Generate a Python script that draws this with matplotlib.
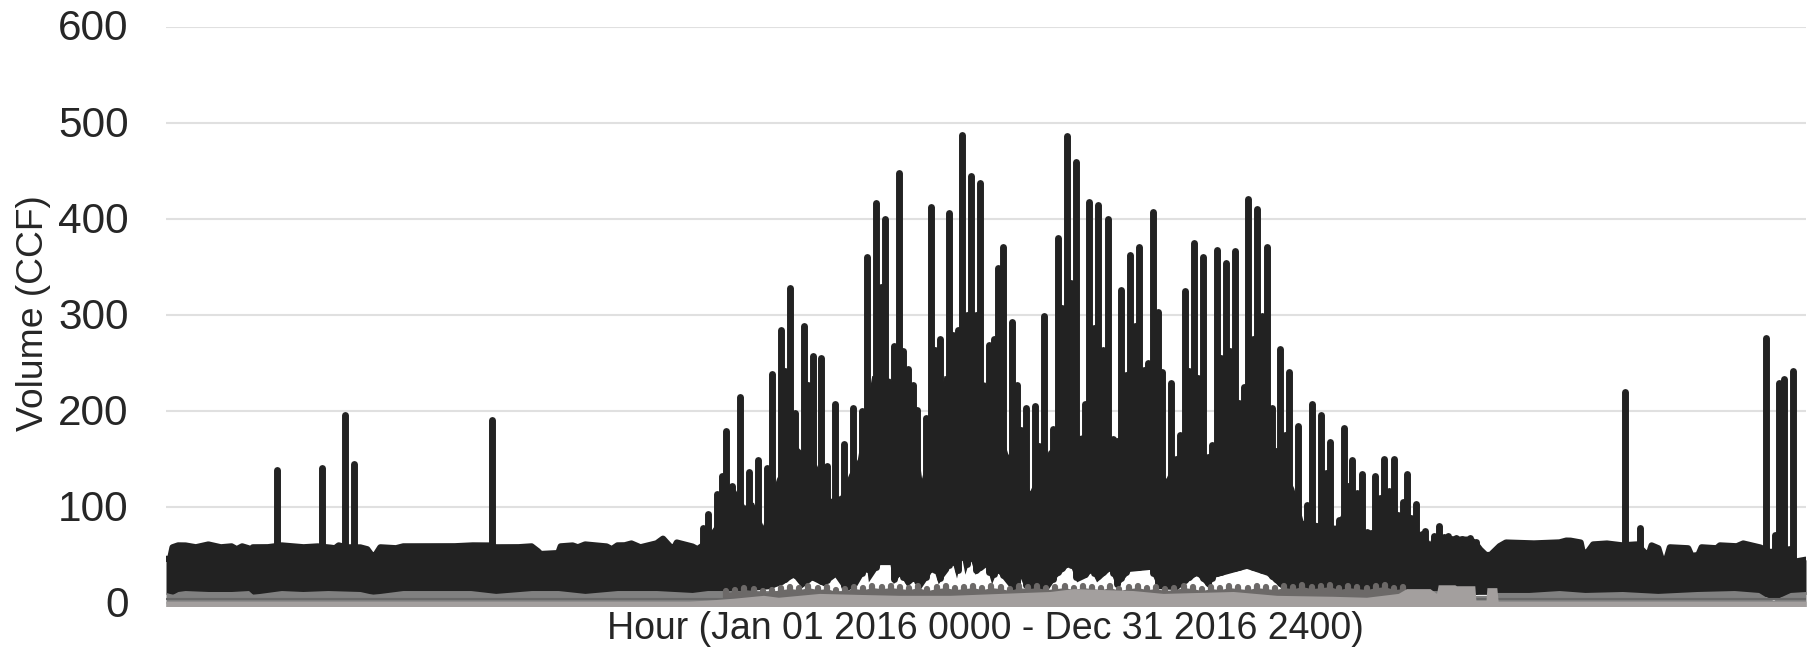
import numpy as np
import matplotlib
matplotlib.use("Agg")
import matplotlib.pyplot as plt
from matplotlib.transforms import ScaledTranslation

plt.rcParams["font.family"] = ["Liberation Sans", "DejaVu Sans"]

# === Data ===
# tall daily peaks of the main series
spike_hours = [
    594, 836, 961, 1007, 1745,
    2878, 2905, 2953, 2976, 3001, 3030, 3074, 3122, 3171, 3221, 3244, 3294, 3317, 3342, 3369,
    3415, 3440, 3463, 3510, 3538, 3583, 3631, 3681, 3726, 3756, 3803, 3828, 3853, 3899, 3926,
    3949, 3976, 3999, 4024, 4071, 4096, 4119, 4144, 4192, 4217, 4240, 4265, 4290, 4313, 4338,
    4361, 4410, 4435, 4458, 4483, 4531, 4556, 4579, 4604, 4654, 4677, 4702, 4749, 4776, 4801,
    4824, 4849, 4874, 4920, 4945, 4970, 4994, 5019, 5044, 5070, 5092, 5117, 5142, 5165, 5190,
    5213, 5238, 5261, 5286, 5311, 5336, 5383, 5408, 5431, 5456, 5481, 5506, 5529, 5554, 5579,
    5602, 5627, 5652, 5675, 5699, 5724, 5749, 5772, 5797, 5822, 5845, 5870, 5895, 5922, 5943,
    5968, 5993, 6016, 6064, 6109, 6138, 6186, 6211, 6234, 6282, 6307, 6332, 6355, 6380, 6405,
    6430, 6452, 6477, 6502, 6525, 6550, 6575, 6600, 6623, 6646, 6671, 6696, 6725, 6746, 6773,
    6794, 6818, 6843, 6868, 6912, 6939, 6987, 7014,
    7814, 7893, 8571, 8617, 8640, 8665, 8714,
]
spike_tops = [
    140, 142, 197, 146, 192,
    80, 94, 115, 134, 181, 123, 216, 138, 150, 142, 240, 286, 243, 330, 199,
    290, 229, 259, 257, 144, 209, 167, 205, 202, 362, 418, 331, 402, 269, 449,
    264, 245, 229, 203, 194, 414, 265, 276, 408, 281, 286, 489, 302, 446, 301,
    439, 270, 277, 350, 372, 294, 229, 182, 205, 207, 165, 300, 183, 382, 309,
    488, 335, 461, 209, 419, 288, 416, 265, 401, 172, 170, 328, 239, 364, 290,
    372, 244, 252, 409, 305, 242, 231, 152, 176, 327, 243, 377, 236, 362, 154,
    166, 369, 257, 356, 264, 368, 210, 226, 422, 276, 412, 300, 372, 205, 160,
    266, 177, 242, 186, 104, 209, 197, 137, 169, 88, 184, 123, 150, 116, 136,
    75, 74, 134, 111, 151, 118, 151, 93, 107, 136, 90, 105, 73, 77, 61,
    71, 82, 70, 71, 69, 68, 69, 65,
    221, 80, 278, 72, 231, 235, 243,
]

# upper edge of the solid dark mass
mass_hours = [
    0, 22, 35, 64, 102, 159, 226, 293, 351, 379, 408, 442, 454, 465, 542, 618, 676, 733, 810,
    867, 905, 925, 963, 1039, 1078, 1108, 1125, 1148, 1231, 1269, 1345, 1441, 1537, 1632, 1728,
    1766, 1881, 1958, 1992, 2005, 2101, 2114, 2177, 2206, 2244, 2359, 2388, 2417, 2455, 2493,
    2541, 2627, 2662, 2694, 2717, 2736, 2818, 2847, 2876,
    2905, 2953, 3001, 3050, 3098, 3146, 3197, 3221, 3270, 3369, 3485, 3560, 3610, 3658, 3703,
    3780, 3878, 3999, 4047, 4071, 4167, 4388, 4508, 4627, 4726, 4899, 5070, 5092, 5356, 5408,
    5579, 5602, 5749, 5943, 6040, 6090, 6262, 6340, 6430, 6452, 6600, 6671, 6725, 6773, 6794,
    6843, 6912, 6987, 7014, 7037, 7069, 7094, 7141, 7176, 7319, 7462, 7498, 7520, 7577, 7591,
    7618, 7644, 7716, 7796, 7877, 7912, 7939, 7957, 7993, 8010, 8037, 8055, 8153, 8171, 8207,
    8225, 8305, 8323, 8412, 8448, 8537, 8591, 8698, 8724, 8778, 8784,
]
mass_tops = [
    46, 46, 58, 60, 60, 58, 61, 58, 59, 56, 59, 57, 46, 58, 58, 60, 59, 58, 59,
    58, 57, 60, 58, 58, 56, 48, 51, 58, 57, 59, 59, 59, 59, 60, 60,
    58, 58, 59, 54, 51, 52, 59, 60, 58, 61, 59, 56, 60, 60, 62,
    58, 62, 67, 60, 56, 63, 59, 56, 60,
    72, 85, 100, 118, 102, 105, 81, 100, 130, 165, 144, 109, 112, 135, 150,
    237, 234, 200, 130, 150, 237, 230, 156, 117, 159, 175, 170, 170, 130, 152,
    154, 150, 200, 160, 120, 86, 81, 110, 72, 71, 90, 87, 70, 58, 65,
    67, 66, 66, 62, 56, 50, 50, 59, 63, 62, 63, 65, 65, 63, 50,
    54, 61, 62, 60, 61, 54, 49, 60, 57, 46, 46, 58, 57, 49, 50,
    58, 57, 60, 59, 62, 58, 53, 56, 43, 45, 45,
]

# lower edge of the dark mass
floor_hours = [
    0, 1500, 2900, 3235, 3306, 3360, 3405, 3458, 3521, 3583, 3637, 3699, 3753, 3762, 3824, 3878,
    3895, 3931, 3967, 4011, 4038, 4083, 4110, 4136, 4190, 4208, 4234, 4261, 4279, 4306, 4333,
    4395, 4422, 4449, 4511, 4547, 4574, 4600, 4716, 4770, 4841, 4877, 4931, 4957, 4984, 5056,
    5091, 5163, 5270, 5314, 5413, 5520, 5582, 5618, 5787, 5895, 5993, 6073, 6800, 8500, 8600,
    8784,
]
floor_vals = [
    9, 9, 9, 15, 20, 27, 16, 24, 18, 27, 12, 18, 36, 22, 40, 40,
    20, 29, 18, 24, 14, 27, 36, 20, 34, 45, 26, 48, 30, 47, 30,
    38, 20, 33, 18, 12, 27, 15, 12, 27, 40, 22, 27, 33, 22, 34,
    16, 33, 35, 15, 14, 29, 16, 27, 36, 29, 12, 9, 9, 9, 5,
    9,
]

# dark grey series under the main one, its daily bumps in summer
bump_hours = [
    3000, 3049, 3098, 3147, 3196, 3245, 3294, 3343, 3392, 3441, 3490, 3539, 3588, 3637, 3686,
    3735, 3784, 3833, 3882, 3931, 3980, 4029, 4078, 4127, 4176, 4225, 4274, 4323, 4372, 4421,
    4470, 4519, 4568, 4617, 4666, 4715, 4764, 4813, 4862, 4911, 4960, 5009, 5058, 5107, 5156,
    5205, 5254, 5303, 5352, 5401, 5450, 5499, 5548, 5597, 5646, 5695, 5744, 5793, 5842, 5891,
    5940, 5989, 6038, 6087, 6136, 6185, 6234, 6283, 6332, 6381, 6430, 6479, 6528, 6577, 6626,
]
bump_vals = [
    13, 14, 16, 15, 13, 14, 16, 17, 16, 18, 16, 17, 14, 15, 17,
    16, 18, 17, 18, 17, 16, 18, 15, 17, 18, 16, 17, 18, 16, 18,
    17, 15, 18, 17, 18, 16, 17, 18, 16, 18, 17, 16, 18, 15, 17,
    18, 16, 17, 15, 16, 18, 17, 15, 17, 16, 18, 17, 16, 18, 17,
    16, 18, 17, 19, 17, 18, 19, 16, 18, 17, 16, 18, 19, 16, 17,
]

# mid grey series
mid_hours = [
    0, 35, 64, 102, 226, 351, 442, 465, 618, 733, 867, 1039, 1108, 1269, 1441, 1632, 1766, 1958,
    2101, 2244, 2417, 2627, 2818, 2900, 6800, 7016, 7070, 7130, 7300, 7462, 7600, 7800, 7990,
    8200, 8400, 8530, 8580, 8610, 8700, 8784,
]
mid_vals = [
    11, 9, 12, 13, 12, 12, 13, 9, 13, 12, 13, 12, 9, 13, 13, 13, 10, 13,
    13, 10, 13, 13, 11, 13, 13, 8, 8, 11, 11, 13, 11, 12, 10,
    12, 13, 11, 5, 3, 11, 12,
]

# thin darker line near zero
thin_hours = [0, 2800, 2900, 7130, 8784]
thin_vals = [4, 4, 4, 4, 4]

# light grey series
light_hours = [
    0, 2800, 2900, 3040, 3200, 3280, 3500, 3700, 3931, 4038, 4200, 4467, 4734, 4860, 5180, 5341,
    5716, 5950, 6250, 6430, 6600, 6644, 6770, 6805, 6814, 6903, 6912, 7010, 7016, 7070, 7075,
    7128, 7135, 8784,
]
light_vals = [
    2, 2, 3, 5, 8, 6, 10, 9, 8, 8, 8, 10, 12, 15, 13, 10,
    12, 8, 7, 6, 10, 15, 15, 10, 19, 19, 18, 18, 3, 3, 16,
    16, 2, 2,
]

dark = "#222222"
band = "#6c6968"
text_color = "#262626"

# === Plotting ===
fig = plt.figure(figsize=(18.16, 6.51), dpi=100)
ax = fig.add_axes([166 / 1816, 1 - 605.7 / 651, 1640 / 1816, 578.7 / 651])

# hour grid of the filled layers
grid = np.arange(0, 8785)
mass = np.interp(grid, mass_hours, mass_tops)
floor = np.interp(grid, floor_hours, floor_vals)

ax.fill_between(grid, floor, mass, color=dark, lw=0, zorder=3)

# the flat winter stretches get a stroke for their round edge, summer gaps stay open
winter = (grid < 2876) | (grid > 6725)
ax.plot(grid, np.where(winter, mass, np.nan), color=dark, lw=4.5, solid_joinstyle="round", zorder=3)

# peaks keep their round line ends
spike_lows = np.interp(spike_hours, floor_hours, floor_vals) + 4
ax.vlines(spike_hours, spike_lows, np.array(spike_tops) - 1.5, color=dark, lw=5, capstyle="round", zorder=3)

ax.fill_between(mid_hours, -5, mid_vals, color="#808080", lw=0, zorder=4)
ax.fill_between(bump_hours, -5, np.array(bump_vals) - 2, color=band, lw=0, zorder=5)
ax.vlines(bump_hours, -5, bump_vals, color=band, lw=4.5, capstyle="round", zorder=5)
ax.plot(thin_hours, thin_vals, color="#686868", lw=1.5, zorder=6)
ax.fill_between(light_hours, -5, light_vals, color="#a39f9e", lw=0, zorder=7)

ax.set_xlim(0, 8784)
ax.set_ylim(-2.8, 600)
ax.set_xticks([])
ax.set_yticks([0, 100, 200, 300, 400, 500, 600])
ax.tick_params(axis="y", length=0, pad=27, labelsize=30.5, labelcolor=text_color)
ax.grid(True, axis="y", color="#e0e0e0", lw=1.5)
ax.set_axisbelow(True)
for side in ax.spines:
    ax.spines[side].set_visible(False)

# tick labels sit a little higher than the centred default
up = ScaledTranslation(0, 2 / 100, fig.dpi_scale_trans)
for label in ax.get_yticklabels():
    label.set_transform(label.get_transform() + up)

fig.text(985 / 1816, 1 - 629 / 651, "Hour (Jan 01 2016 0000 - Dec 31 2016 2400)",
         fontsize=27, color=text_color, ha="center", va="center")
fig.text(34 / 1816, 1 - 313 / 651, "Volume (CCF)",
         fontsize=26.8, color=text_color, ha="center", va="center", rotation=90)

fig.savefig("out.png", dpi=100)
